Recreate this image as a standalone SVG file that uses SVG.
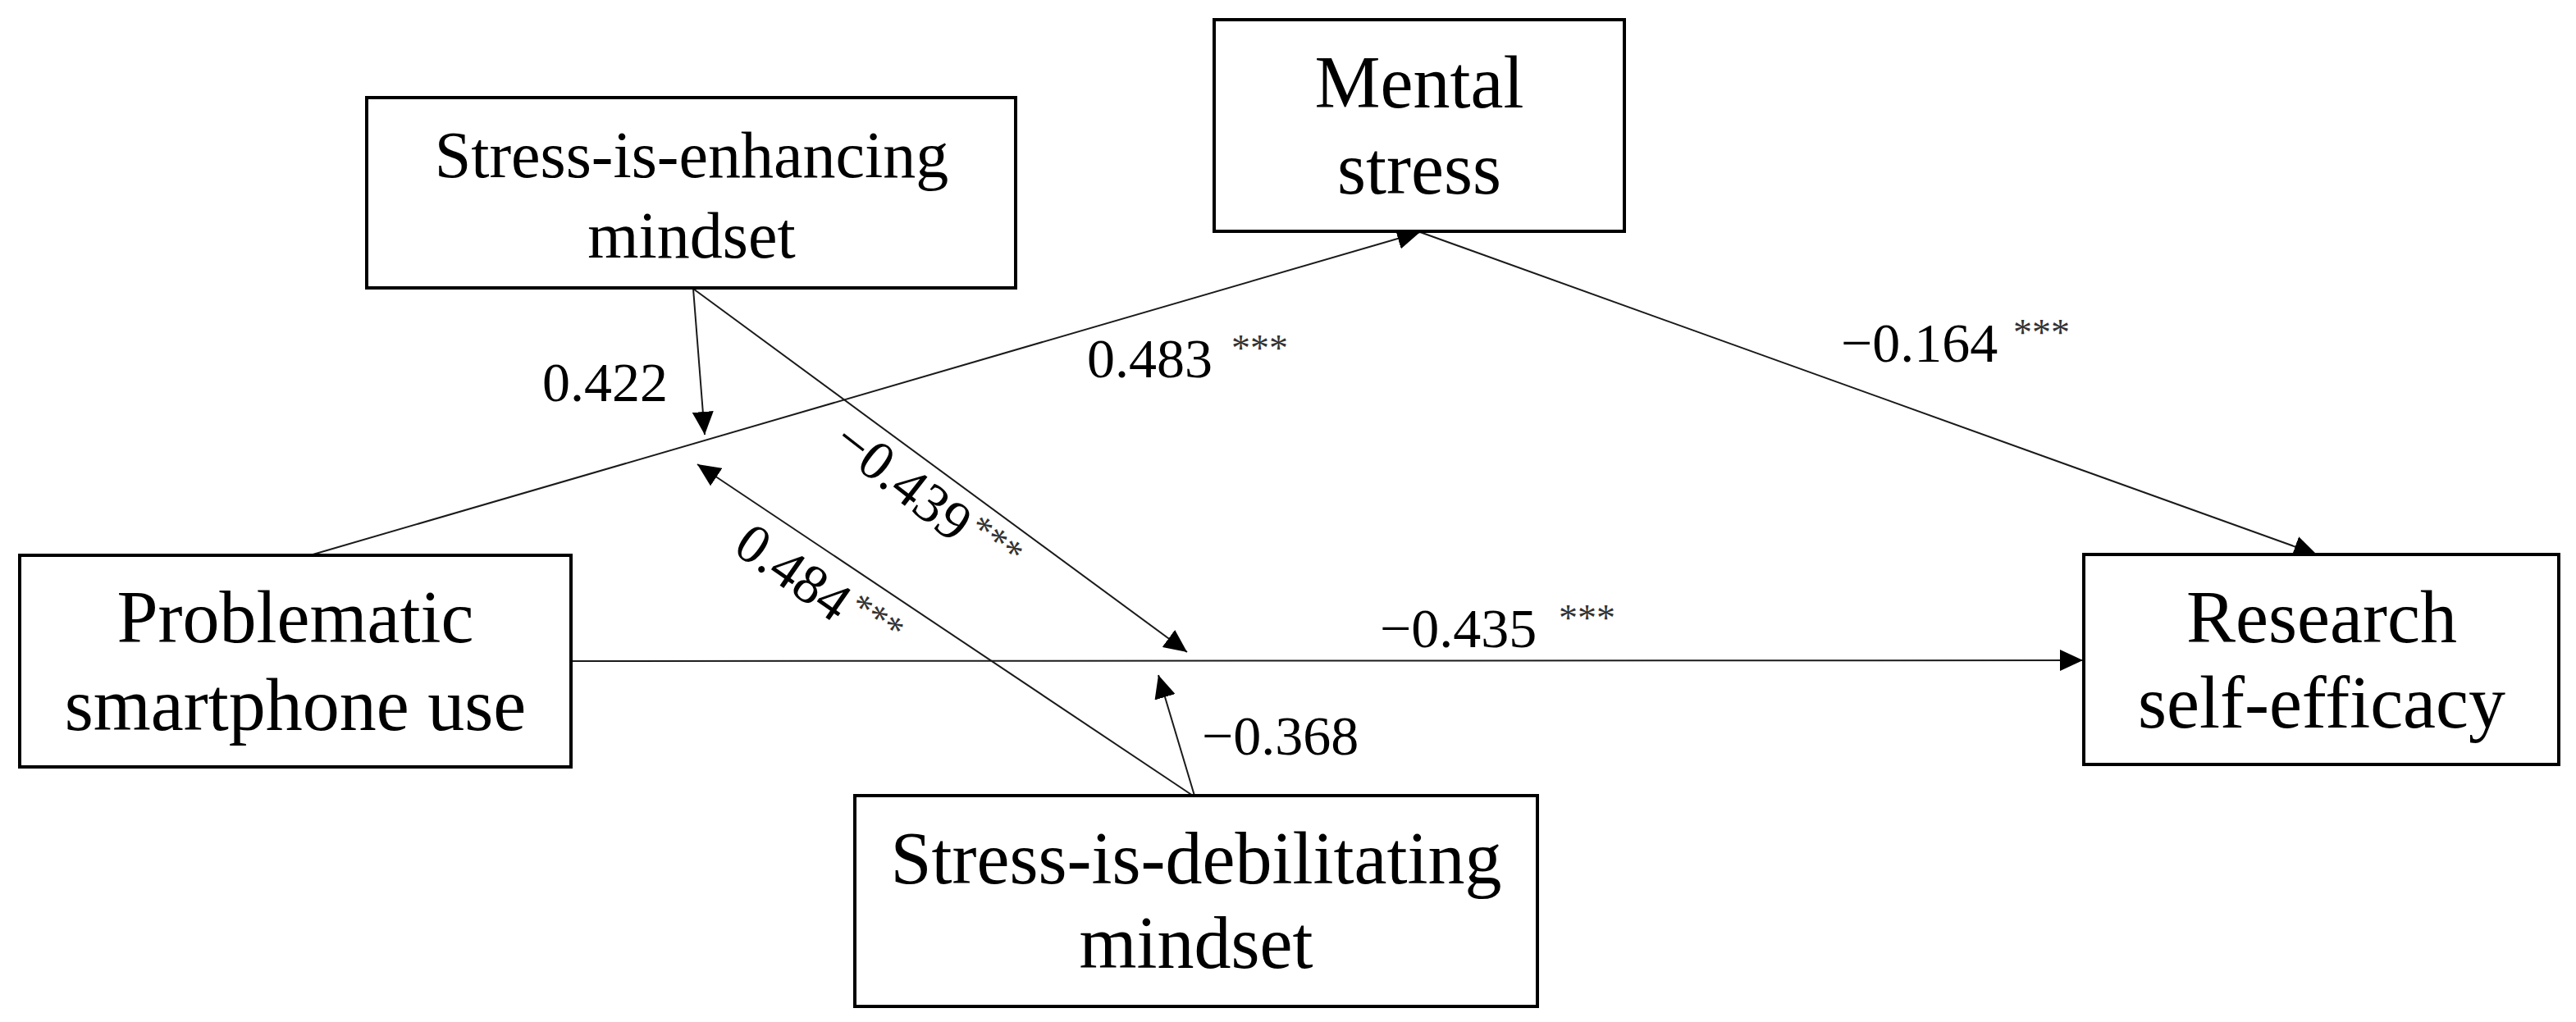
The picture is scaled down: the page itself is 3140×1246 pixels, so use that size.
<svg xmlns="http://www.w3.org/2000/svg" width="3140" height="1246" viewBox="0 0 3140 1246">
  <style>
    .box { fill: #ffffff; stroke: #000000; stroke-width: 4; }
    .node { font-family: "Liberation Serif", "Times New Roman", serif; font-size: 90px; fill: #000000; text-anchor: middle; }
    .node-sm { font-size: 80px; }
    .edge { stroke: #1a1a1a; stroke-width: 2; fill: none; marker-end: url(#arrow); }
    .lbl { font-family: "Liberation Serif", "Times New Roman", serif; font-size: 68px; fill: #000000; }
    .star { font-size: 46px; fill: #333333; }
  </style>
  <defs>
    <marker id="arrow" markerUnits="userSpaceOnUse" markerWidth="30" markerHeight="26" refX="28" refY="13" orient="auto">
      <path d="M0,0 L28,13 L0,26 Z" fill="#000000"/>
    </marker>
  </defs>
  <rect x="0" y="0" width="3140" height="1246" fill="#ffffff"/>

  <g id="connectors">
    <line class="edge" x1="378" y1="677" x2="1731" y2="283"/>
    <line class="edge" x1="1731" y1="283" x2="2824" y2="676"/>
    <line class="edge" x1="696" y1="806" x2="2539" y2="805"/>
    <line class="edge" x1="845" y1="352" x2="859" y2="530"/>
    <line class="edge" x1="845" y1="352" x2="1447" y2="795"/>
    <line class="edge" x1="1454" y1="970" x2="850" y2="566"/>
    <line class="edge" x1="1456" y1="970" x2="1412" y2="823"/>
  </g>

  <g id="labels">
    <text class="lbl" x="661" y="489">0.422</text>
    <text class="lbl" x="1325" y="460">0.483<tspan class="star" x="1501" y="440">***</tspan></text>
    <text class="lbl" x="2244" y="441">−0.164<tspan class="star" x="2454" y="421">***</tspan></text>
    <text class="lbl" x="1682" y="789">−0.435<tspan class="star" x="1900" y="769">***</tspan></text>
    <text class="lbl" x="1465" y="920">−0.368</text>
    <text class="lbl" transform="translate(1116,598) rotate(38)" x="-115" y="23">−0.439<tspan class="star" dx="4" dy="-20">***</tspan></text>
    <text class="lbl" transform="translate(967,697) rotate(35)" x="-76" y="23">0.484<tspan class="star" dx="4" dy="-20">***</tspan></text>
  </g>

  <g id="node-enhancing">
    <rect class="box" x="447" y="119" width="791" height="232"/>
    <text class="node node-sm" x="843" y="216">Stress-is-enhancing</text>
    <text class="node node-sm" x="843" y="314">mindset</text>
  </g>

  <g id="node-mental">
    <rect class="box" x="1480" y="24" width="500" height="258"/>
    <text class="node" x="1730" y="131">Mental</text>
    <text class="node" x="1730" y="236">stress</text>
  </g>

  <g id="node-psu">
    <rect class="box" x="24" y="677" width="672" height="258"/>
    <text class="node" x="360" y="783">Problematic</text>
    <text class="node" x="360" y="890">smartphone use</text>
  </g>

  <g id="node-rse">
    <rect class="box" x="2540" y="676" width="579" height="256"/>
    <text class="node" x="2830" y="783">Research</text>
    <text class="node" x="2830" y="887">self-efficacy</text>
  </g>

  <g id="node-debilitating">
    <rect class="box" x="1042" y="970" width="832" height="257"/>
    <text class="node" x="1458" y="1077">Stress-is-debilitating</text>
    <text class="node" x="1458" y="1180">mindset</text>
  </g>
</svg>
